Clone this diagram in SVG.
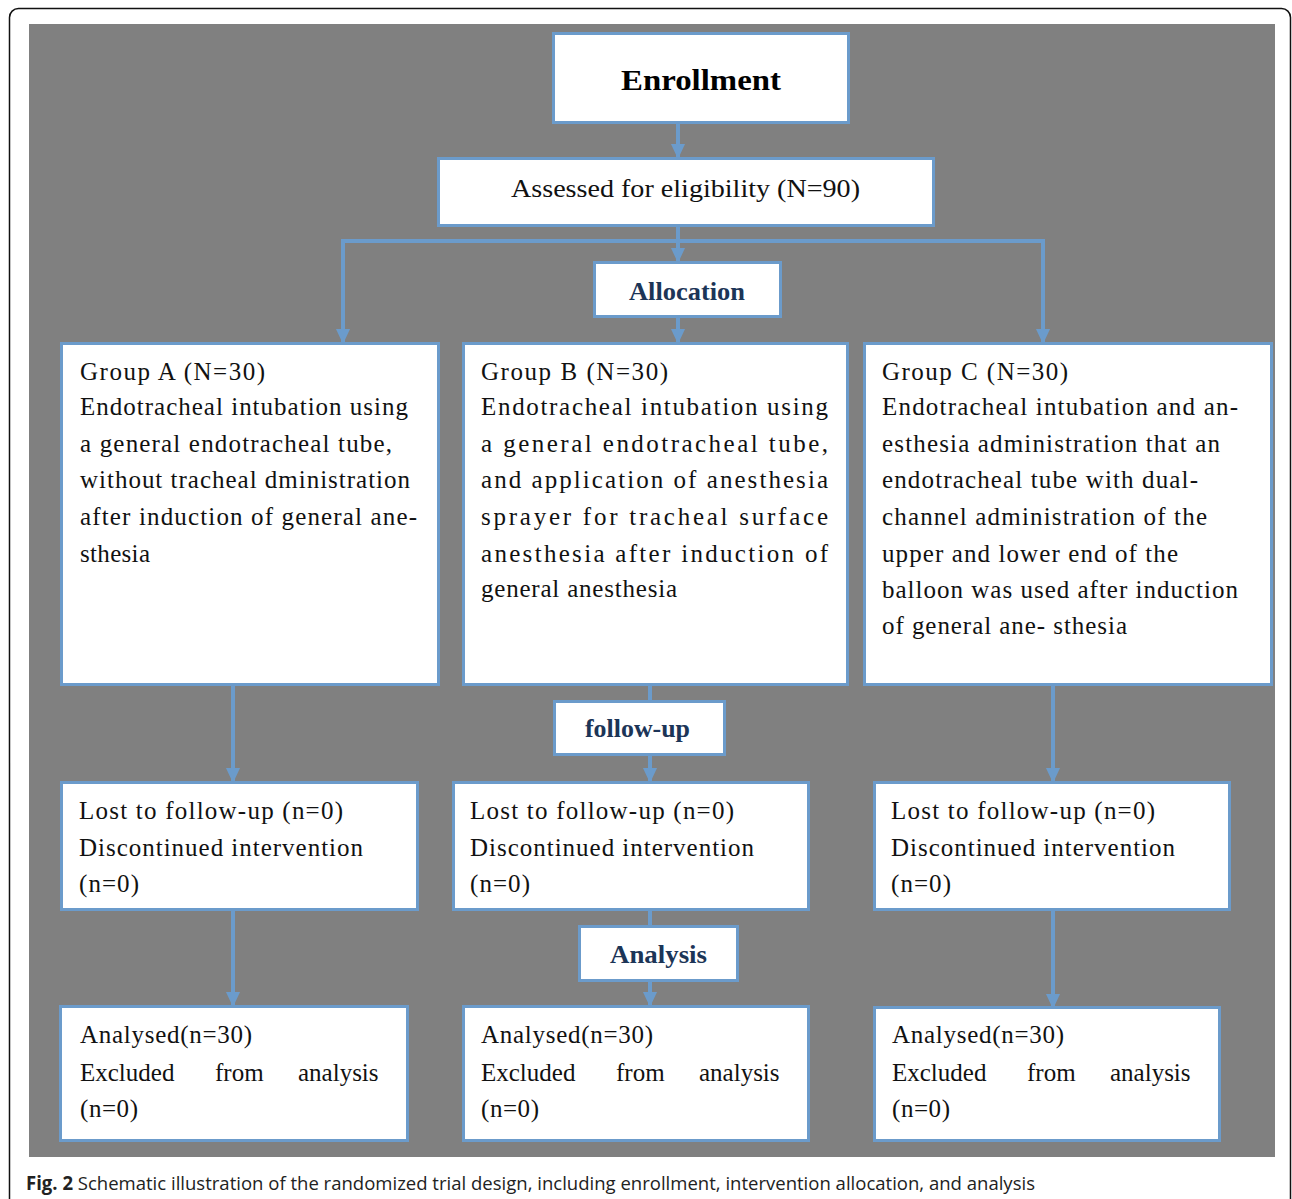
<svg xmlns="http://www.w3.org/2000/svg" width="1292" height="1199" viewBox="0 0 1292 1199">
<style>
.box{fill:#ffffff;stroke:#6b9bcb;stroke-width:3}
.t{font-family:"Liberation Serif","Times New Roman",serif;font-size:25px;fill:#111111}
.h{font-family:"Liberation Serif","Times New Roman",serif;font-size:26px;font-weight:bold;fill:#1c3557}
.c{stroke:#6b9bcb;stroke-width:4;fill:none}
.a{stroke:#6b9bcb;stroke-width:4;fill:none;marker-end:url(#arr)}
.cap{font-family:"Open Sans","Liberation Sans",sans-serif;font-size:19px;fill:#222222}
</style>
<defs>
<marker id="arr" markerUnits="userSpaceOnUse" markerWidth="16" markerHeight="16" refX="14" refY="8" orient="auto">
<path d="M0,1 L15,8 L0,15 z" fill="#6b9bcb"/>
</marker>
</defs>
<rect x="0" y="0" width="1292" height="1199" fill="#ffffff"/>
<rect x="9.5" y="8.5" width="1281" height="1205" rx="9" ry="9" fill="#ffffff" stroke="#111111" stroke-width="1.5"/>
<rect x="29" y="24" width="1246" height="1133" fill="#808080"/>

<g id="connectors">
<line class="a" x1="678" y1="124" x2="678" y2="158"/>
<line class="c" x1="678" y1="226" x2="678" y2="241"/>
<line class="c" x1="341" y1="241" x2="1045" y2="241"/>
<line class="a" x1="343" y1="241" x2="343" y2="343"/>
<line class="a" x1="1043" y1="241" x2="1043" y2="343"/>
<line class="a" x1="678" y1="241" x2="678" y2="262"/>
<line class="a" x1="678" y1="318" x2="678" y2="343"/>
<line class="c" x1="650" y1="686" x2="650" y2="701"/>
<line class="a" x1="650" y1="756" x2="650" y2="782"/>
<line class="c" x1="650" y1="911" x2="650" y2="926"/>
<line class="a" x1="650" y1="982" x2="650" y2="1006"/>
<line class="a" x1="233" y1="686" x2="233" y2="782"/>
<line class="a" x1="233" y1="911" x2="233" y2="1006"/>
<line class="a" x1="1053" y1="686" x2="1053" y2="782"/>
<line class="a" x1="1053" y1="911" x2="1053" y2="1008"/>
</g>

<g id="enrollment">
<rect class="box" x="553.5" y="33.5" width="295" height="89"/>
<text x="621" y="90" textLength="160" lengthAdjust="spacingAndGlyphs" style="font-family:'Liberation Serif','Times New Roman',serif;font-size:30px;font-weight:bold;fill:#000">Enrollment</text>
</g>

<g id="eligibility">
<rect class="box" x="438.5" y="158.5" width="495" height="67"/>
<text class="t" x="511" y="197" textLength="349" lengthAdjust="spacingAndGlyphs">Assessed for eligibility  (N=90)</text>
</g>

<g id="allocation">
<rect class="box" x="594.5" y="262.5" width="186" height="54"/>
<text class="h" x="629" y="300" textLength="116" lengthAdjust="spacingAndGlyphs">Allocation</text>
</g>

<g id="groupA">
<rect class="box" x="61.5" y="343.5" width="377" height="341"/>
<text class="t" x="80" y="380" textLength="185" lengthAdjust="spacing">Group A (N=30)</text>
<text class="t" x="80" y="415" textLength="328" lengthAdjust="spacing">Endotracheal intubation using</text>
<text class="t" x="80" y="452" textLength="312" lengthAdjust="spacing">a general endotracheal tube,</text>
<text class="t" x="80" y="488" textLength="330" lengthAdjust="spacing">without tracheal dministration</text>
<text class="t" x="80" y="525" textLength="337" lengthAdjust="spacing">after induction of general ane-</text>
<text class="t" x="80" y="562" textLength="70" lengthAdjust="spacing">sthesia</text>
</g>

<g id="groupB">
<rect class="box" x="463.5" y="343.5" width="384" height="341"/>
<text class="t" x="481" y="380" textLength="187" lengthAdjust="spacing">Group B (N=30)</text>
<text class="t" x="481" y="415" textLength="347" lengthAdjust="spacing">Endotracheal intubation using</text>
<text class="t" x="481" y="452" textLength="347" lengthAdjust="spacing">a general endotracheal tube,</text>
<text class="t" x="481" y="488" textLength="347" lengthAdjust="spacing">and application of anesthesia</text>
<text class="t" x="481" y="525" textLength="347" lengthAdjust="spacing">sprayer for tracheal surface</text>
<text class="t" x="481" y="562" textLength="347" lengthAdjust="spacing">anesthesia after induction of</text>
<text class="t" x="481" y="597" textLength="196" lengthAdjust="spacing">general anesthesia</text>
</g>

<g id="groupC">
<rect class="box" x="864.5" y="343.5" width="407" height="341"/>
<text class="t" x="882" y="380" textLength="186" lengthAdjust="spacing">Group C (N=30)</text>
<text class="t" x="882" y="415" textLength="356" lengthAdjust="spacing">Endotracheal intubation and an-</text>
<text class="t" x="882" y="452" textLength="338" lengthAdjust="spacing">esthesia administration that an</text>
<text class="t" x="882" y="488" textLength="316" lengthAdjust="spacing">endotracheal tube with dual-</text>
<text class="t" x="882" y="525" textLength="325" lengthAdjust="spacing">channel administration of the</text>
<text class="t" x="882" y="562" textLength="296" lengthAdjust="spacing">upper and lower end of the</text>
<text class="t" x="882" y="598" textLength="356" lengthAdjust="spacing">balloon was used after induction</text>
<text class="t" x="882" y="634" textLength="245" lengthAdjust="spacing">of general ane- sthesia</text>
</g>

<g id="followup">
<rect class="box" x="554.5" y="701.5" width="170" height="53"/>
<text class="h" x="585" y="737" textLength="105" lengthAdjust="spacingAndGlyphs">follow-up</text>
</g>

<g id="lostA">
<rect class="box" x="61.5" y="782.5" width="356" height="127"/>
<text class="t" x="79" y="819" textLength="264" lengthAdjust="spacing">Lost to follow-up  (n=0)</text>
<text class="t" x="79" y="856" textLength="284" lengthAdjust="spacing">Discontinued intervention</text>
<text class="t" x="79" y="892" textLength="60" lengthAdjust="spacing">(n=0)</text>
</g>

<g id="lostB">
<rect class="box" x="453.5" y="782.5" width="355" height="127"/>
<text class="t" x="470" y="819" textLength="264" lengthAdjust="spacing">Lost to follow-up  (n=0)</text>
<text class="t" x="470" y="856" textLength="284" lengthAdjust="spacing">Discontinued intervention</text>
<text class="t" x="470" y="892" textLength="60" lengthAdjust="spacing">(n=0)</text>
</g>

<g id="lostC">
<rect class="box" x="874.5" y="782.5" width="355" height="127"/>
<text class="t" x="891" y="819" textLength="264" lengthAdjust="spacing">Lost to follow-up  (n=0)</text>
<text class="t" x="891" y="856" textLength="284" lengthAdjust="spacing">Discontinued intervention</text>
<text class="t" x="891" y="892" textLength="60" lengthAdjust="spacing">(n=0)</text>
</g>

<g id="analysis">
<rect class="box" x="579.5" y="926.5" width="158" height="54"/>
<text class="h" x="610" y="963" textLength="97" lengthAdjust="spacingAndGlyphs">Analysis</text>
</g>

<g id="analysedA">
<rect class="box" x="60.5" y="1006.5" width="347" height="134"/>
<text class="t" x="80" y="1043" textLength="172" lengthAdjust="spacing">Analysed(n=30)</text>
<text class="t" y="1081"><tspan x="80">Excluded</tspan> <tspan x="215">from</tspan> <tspan x="298">analysis</tspan></text>
<text class="t" x="80" y="1117" textLength="58" lengthAdjust="spacing">(n=0)</text>
</g>

<g id="analysedB">
<rect class="box" x="463.5" y="1006.5" width="345" height="134"/>
<text class="t" x="481" y="1043" textLength="172" lengthAdjust="spacing">Analysed(n=30)</text>
<text class="t" y="1081"><tspan x="481">Excluded</tspan> <tspan x="616">from</tspan> <tspan x="699">analysis</tspan></text>
<text class="t" x="481" y="1117" textLength="58" lengthAdjust="spacing">(n=0)</text>
</g>

<g id="analysedC">
<rect class="box" x="874.5" y="1007.5" width="345" height="133"/>
<text class="t" x="892" y="1043" textLength="172" lengthAdjust="spacing">Analysed(n=30)</text>
<text class="t" y="1081"><tspan x="892">Excluded</tspan> <tspan x="1027">from</tspan> <tspan x="1110">analysis</tspan></text>
<text class="t" x="892" y="1117" textLength="58" lengthAdjust="spacing">(n=0)</text>
</g>

<g id="caption">
<text class="cap" x="26" y="1190" textLength="1009" lengthAdjust="spacingAndGlyphs"><tspan font-weight="bold">Fig. 2</tspan> Schematic illustration of the randomized trial design, including enrollment, intervention allocation, and analysis</text>
</g>
</svg>
